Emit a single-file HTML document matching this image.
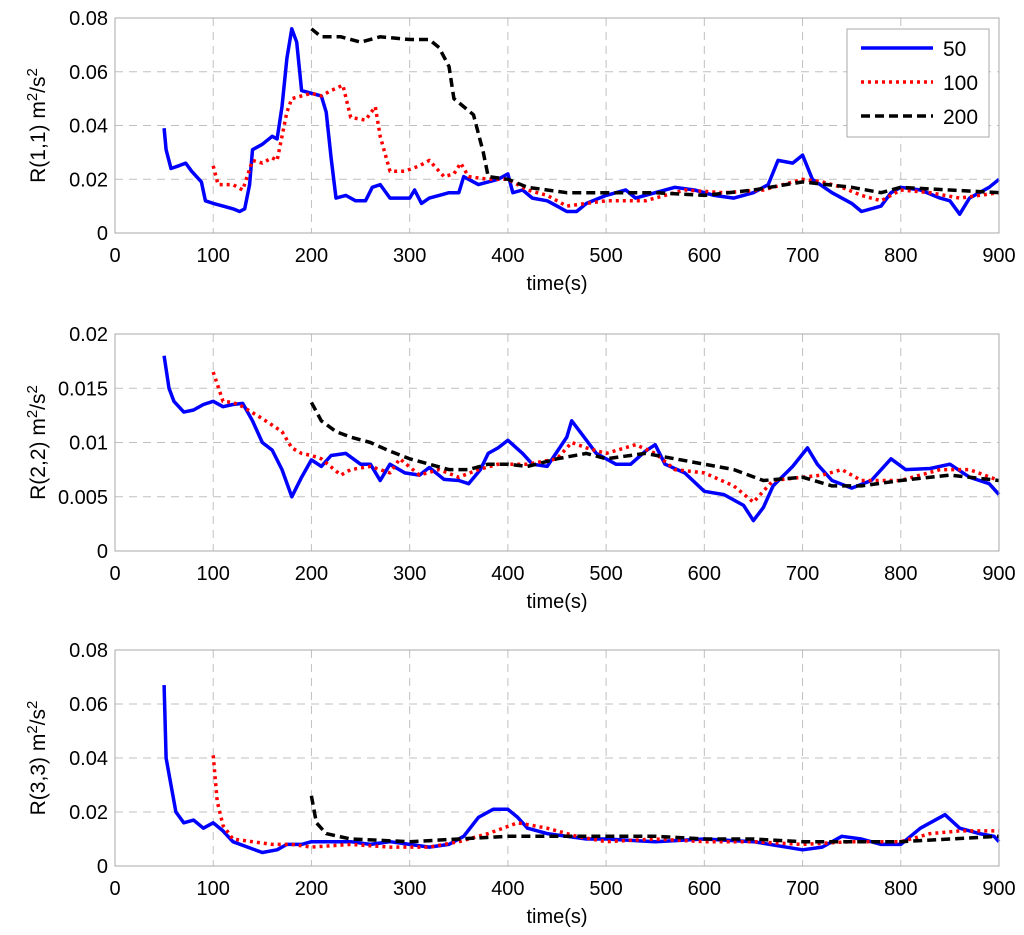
<!DOCTYPE html>
<html><head><meta charset="utf-8"><style>
html,body{margin:0;padding:0;background:#fff;}
svg{display:block;font-family:"Liberation Sans",sans-serif;}
</style></head><body>
<svg id="fig" width="1024" height="935" viewBox="0 0 1024 935"></svg>
<script>
// ---- data ----
const p1BlueT=[50,52,57,65,72,78,88,92,100,110,120,127,132,137,140,150,160,165,170,175,180,185,190,200,210,215,220,225,235,245,255,262,270,280,290,300,305,312,320,330,340,350,355,360,370,380,390,400,405,415,425,440,450,460,470,480,500,520,530,550,570,590,610,630,650,665,675,690,700,710,730,750,760,780,790,800,820,840,850,860,870,880,890,900];
const p1BlueV=[0.039,0.031,0.024,0.025,0.026,0.023,0.019,0.012,0.011,0.010,0.009,0.008,0.009,0.018,0.031,0.033,0.036,0.035,0.047,0.065,0.076,0.071,0.053,0.052,0.051,0.045,0.028,0.013,0.014,0.012,0.012,0.017,0.018,0.013,0.013,0.013,0.016,0.011,0.013,0.014,0.015,0.015,0.021,0.020,0.018,0.019,0.020,0.022,0.015,0.016,0.013,0.012,0.010,0.008,0.008,0.011,0.014,0.016,0.013,0.015,0.017,0.016,0.014,0.013,0.015,0.018,0.027,0.026,0.029,0.020,0.015,0.011,0.008,0.010,0.015,0.017,0.016,0.013,0.012,0.007,0.013,0.015,0.017,0.020];
const p1RedT=[100,105,120,130,140,150,160,165,170,175,180,190,200,210,220,232,240,255,265,270,280,295,310,320,335,345,352,360,380,400,420,440,460,480,500,540,580,620,660,700,720,740,760,780,800,830,860,900];
const p1RedV=[0.025,0.018,0.018,0.016,0.027,0.026,0.028,0.027,0.036,0.045,0.050,0.051,0.052,0.051,0.053,0.055,0.043,0.042,0.047,0.036,0.023,0.023,0.025,0.027,0.021,0.022,0.026,0.021,0.020,0.020,0.016,0.014,0.010,0.011,0.012,0.012,0.016,0.015,0.016,0.020,0.019,0.017,0.014,0.012,0.016,0.015,0.013,0.015];
const p1BlackT=[200,210,230,250,270,300,320,330,340,345,365,375,380,400,420,440,460,500,550,600,650,700,750,780,800,850,900];
const p1BlackV=[0.076,0.073,0.073,0.071,0.073,0.072,0.072,0.069,0.062,0.050,0.044,0.030,0.021,0.020,0.017,0.016,0.015,0.015,0.015,0.014,0.016,0.019,0.017,0.015,0.017,0.016,0.015];

const p2BlueT=[50,55,60,70,80,90,100,110,120,130,140,150,160,170,180,190,200,210,220,235,250,260,270,280,295,310,320,335,350,360,372,380,390,400,415,425,440,460,465,475,490,510,525,540,550,560,580,600,620,640,650,660,670,690,705,715,730,750,770,790,805,830,850,870,890,900];
const p2BlueV=[0.018,0.015,0.0138,0.0128,0.0130,0.0135,0.0138,0.0133,0.0135,0.0136,0.0120,0.0100,0.0093,0.0075,0.0050,0.0068,0.0084,0.0078,0.0088,0.0090,0.0080,0.0080,0.0065,0.0080,0.0072,0.0070,0.0077,0.0066,0.0065,0.0062,0.0075,0.0090,0.0095,0.0102,0.0090,0.0080,0.0078,0.0105,0.0120,0.0108,0.0090,0.0080,0.0080,0.0092,0.0098,0.0080,0.0072,0.0055,0.0052,0.0042,0.0028,0.0040,0.0060,0.0078,0.0095,0.0080,0.0065,0.0058,0.0065,0.0085,0.0075,0.0076,0.0080,0.0068,0.0062,0.0052];
const p2RedT=[100,110,120,130,150,170,180,190,200,210,230,240,260,280,290,310,330,350,370,390,420,450,465,480,500,530,550,570,600,630,650,670,700,720,740,760,800,840,870,900];
const p2RedV=[0.0165,0.0138,0.0137,0.0133,0.0122,0.0110,0.0095,0.0090,0.0088,0.0085,0.0070,0.0075,0.0078,0.0072,0.0085,0.0070,0.0075,0.0068,0.0075,0.0080,0.0080,0.0085,0.0100,0.0095,0.0090,0.0098,0.0090,0.0075,0.0072,0.0060,0.0045,0.0065,0.0068,0.0070,0.0075,0.0065,0.0065,0.0075,0.0075,0.0065];
const p2BlackT=[200,210,225,240,260,280,300,320,340,360,380,400,420,450,480,500,540,570,600,630,660,700,730,760,800,850,900];
const p2BlackV=[0.0137,0.0120,0.0110,0.0105,0.0100,0.0092,0.0085,0.0080,0.0075,0.0075,0.0080,0.0080,0.0078,0.0085,0.0090,0.0085,0.0090,0.0085,0.0080,0.0075,0.0065,0.0068,0.0060,0.0060,0.0065,0.0070,0.0065];

const p3BlueT=[50,52,57,62,70,80,90,100,110,120,135,150,165,175,190,200,220,240,260,280,300,320,340,355,370,385,400,410,420,440,460,480,500,550,600,650,700,720,740,760,780,800,820,845,860,880,895,900];
const p3BlueV=[0.067,0.040,0.030,0.020,0.016,0.017,0.014,0.016,0.013,0.009,0.007,0.005,0.006,0.008,0.008,0.009,0.009,0.009,0.008,0.009,0.008,0.007,0.008,0.011,0.018,0.021,0.021,0.018,0.014,0.012,0.011,0.010,0.010,0.009,0.010,0.009,0.006,0.007,0.011,0.010,0.008,0.008,0.014,0.019,0.014,0.012,0.011,0.009];
const p3RedT=[100,104,110,120,140,160,180,200,240,280,320,350,380,410,440,470,500,550,600,650,700,750,800,830,860,900];
const p3RedV=[0.041,0.024,0.015,0.010,0.009,0.008,0.008,0.007,0.008,0.007,0.007,0.009,0.012,0.016,0.014,0.011,0.009,0.010,0.009,0.009,0.008,0.009,0.009,0.012,0.013,0.013];
const p3BlackT=[200,205,215,240,300,350,400,450,500,550,600,650,700,750,800,850,900];
const p3BlackV=[0.026,0.016,0.012,0.010,0.009,0.010,0.011,0.011,0.011,0.011,0.010,0.010,0.009,0.009,0.009,0.010,0.011];

const xTicks=[0,100,200,300,400,500,600,700,800,900];
const yTicks1=[0,0.02,0.04,0.06,0.08];
const yTickLabels1=["0","0.02","0.04","0.06","0.08"];
const yTicks2=[0,0.005,0.01,0.015,0.02];
const yTickLabels2=["0","0.005","0.01","0.015","0.02"];
const legendLabels=["50","100","200"];

// ---- drawing ----
const NS="http://www.w3.org/2000/svg";
const svg=document.getElementById('fig');
function mk(tag,attrs,parent){const e=document.createElementNS(NS,tag);for(const k in attrs)e.setAttribute(k,attrs[k]);(parent||svg).appendChild(e);return e;}
const L=115,R=999;
const styles=[
 {stroke:"#0000ff","stroke-width":3.5,fill:"none"},
 {stroke:"#ff0000","stroke-width":3.5,fill:"none","stroke-dasharray":"3 4"},
 {stroke:"#000000","stroke-width":3.5,fill:"none","stroke-dasharray":"9 5"}
];
function panel(idx,top,bot,ymax,yt,ytl,title,series){
  const g=mk('g',{});
  
  
  const xs=v=>L+(R-L)*v/900;
  const ys=v=>bot-(bot-top)*v/ymax;
  xTicks.forEach(t=>{if(t>0&&t<900){const l=mk('line',{x1:xs(t),x2:xs(t),y1:top,y2:bot,stroke:"#c0c0c0","stroke-dasharray":"8 6","stroke-width":1},g);}});
  yt.forEach(t=>{if(t>0&&t<ymax){const l=mk('line',{x1:L,x2:R,y1:ys(t),y2:ys(t),stroke:"#c0c0c0","stroke-dasharray":"8 6","stroke-width":1},g);}});
  series.forEach((s,i)=>{
    const d=s[0].map((t,j)=>(j?'L':'M')+xs(t).toFixed(1)+' '+ys(s[1][j]).toFixed(1)).join(' ');
    const p=mk('path',Object.assign({d:d,"stroke-linejoin":"round"},styles[i]),g);
    
    
  });
  const box=mk('rect',{x:L,y:top,width:R-L,height:bot-top,fill:"none",stroke:"#a8a8a8","stroke-width":1},g);
  
  
  xTicks.forEach(t=>{const tx=mk('text',{x:xs(t),y:bot+29,"text-anchor":"middle","font-size":20},g);tx.textContent=t;});
  yt.forEach((t,i)=>{const tx=mk('text',{x:L-7,y:ys(t)+7,"text-anchor":"end","font-size":20},g);tx.textContent=ytl[i];});
  const xl=mk('text',{x:(L+R)/2,y:bot+57,"text-anchor":"middle","font-size":20},g);
  xl.textContent="time(s)";
  
  
  const yl=mk('text',{transform:`translate(45 ${(top+bot)/2}) rotate(-90)`,"text-anchor":"middle","font-size":21},g);
  yl.innerHTML=title+' m<tspan dy="-8" font-size="15">2</tspan><tspan dy="8">/s</tspan><tspan dy="-8" font-size="15">2</tspan>';
  
  
}
panel(1,18,233,0.08,yTicks1,yTickLabels1,"R(1,1)",[[p1BlueT,p1BlueV],[p1RedT,p1RedV],[p1BlackT,p1BlackV]]);
panel(2,334,551,0.02,yTicks2,yTickLabels2,"R(2,2)",[[p2BlueT,p2BlueV],[p2RedT,p2RedV],[p2BlackT,p2BlackV]]);
panel(3,650,866,0.08,yTicks1,yTickLabels1,"R(3,3)",[[p3BlueT,p3BlueV],[p3RedT,p3RedV],[p3BlackT,p3BlackV]]);
const lg=mk('g',{});


const lb=mk('rect',{x:847,y:29,width:142,height:108,fill:"#fff",stroke:"#a8a8a8"},lg);


legendLabels.forEach((lab,i)=>{
  const y=48+i*34;
  const ln=mk('line',Object.assign({x1:861,x2:933,y1:y,y2:y},styles[i]),lg);
  
  
  const tx=mk('text',{x:943,y:y+8,"font-size":21},lg);
  tx.textContent=lab;
  
  
});
</script>
</body></html>
